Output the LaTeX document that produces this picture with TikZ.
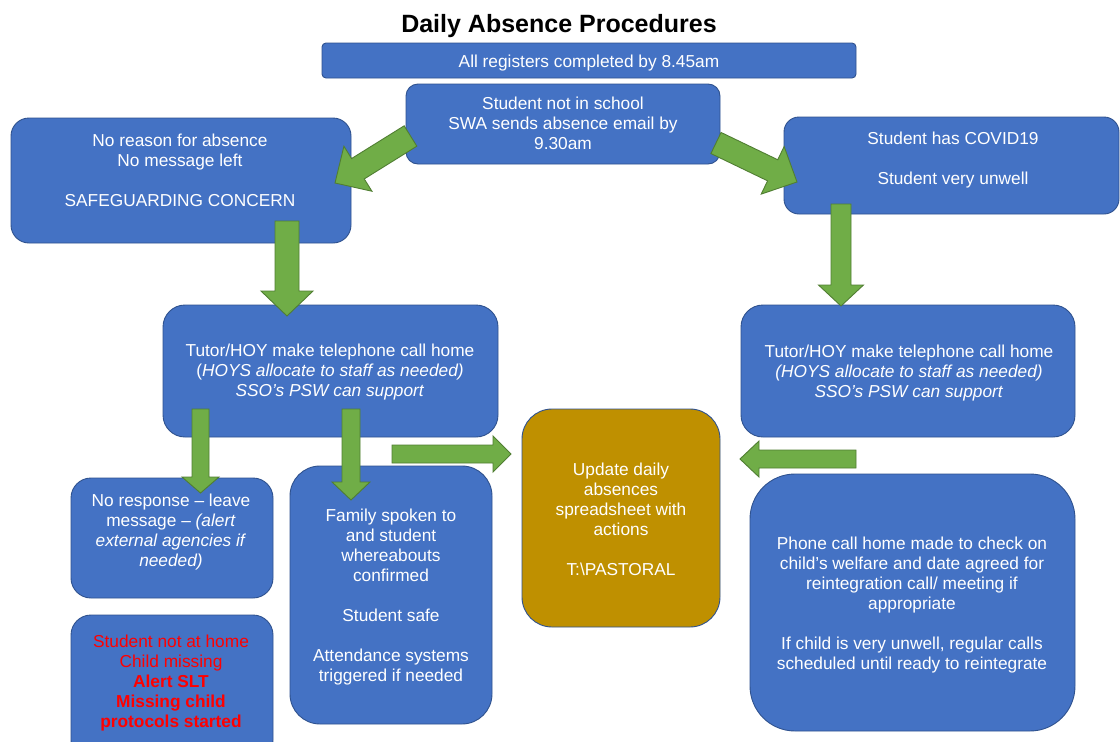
\documentclass[tikz,border=0pt]{standalone}
\usepackage{fontspec}
\setmainfont{Liberation Sans}
\usetikzlibrary{calc}
\definecolor{boxblue}{HTML}{4472C4}
\definecolor{boxedge}{HTML}{2F528F}
\definecolor{argreen}{HTML}{70AD47}
\definecolor{aredge}{HTML}{507E32}
\definecolor{goldfill}{HTML}{BF9000}
\definecolor{alertred}{HTML}{FF0000}
\tikzset{
  box/.style={draw=boxedge, fill=boxblue, line width=0.9pt, inner sep=0pt},
  goldbox/.style={box, fill=goldfill},
  txt/.style={text=white, align=center, inner sep=0pt, font=\fontsize{17.3}{20}\selectfont},
  barrow/.style={draw=aredge, fill=argreen, line width=0.9pt, line join=miter},
}
% #1 start, #2 tip, #3 half shaft, #4 half head, #5 head length
\newcommand\blockarr[5]{%
  \coordinate (hb) at ($(#2)!#5!(#1)$);
  \draw[barrow] ($(#1)!#3!90:(#2)$) -- ($(hb)!#3!90:(#2)$) -- ($(hb)!#4!90:(#2)$)
    -- (#2) -- ($(hb)!#4!-90:(#2)$) -- ($(hb)!#3!-90:(#2)$) -- ($(#1)!#3!-90:(#2)$) -- cycle;
}
\begin{document}
\begin{tikzpicture}[x=1pt, y=-1pt]
\clip (0,0) rectangle (1120,742);
\fill[white] (0,0) rectangle (1120,742);

% title
\node[font=\bfseries\fontsize{25}{30}\selectfont, anchor=base, inner sep=0pt] (title) at (559,32) {Daily Absence Procedures};

% boxes
\node[box, rounded corners=4pt, minimum width=534pt, minimum height=35pt] (b1) at (589,60.5) {};
\node[box, rounded corners=12pt, minimum width=314pt, minimum height=80pt] (b2) at (563,124) {};
\node[box, rounded corners=18pt, minimum width=340pt, minimum height=125pt] (b3) at (181,180.5) {};
\node[box, rounded corners=15pt, minimum width=335pt, minimum height=97pt] (b4) at (951.5,165.5) {};
\node[box, rounded corners=22pt, minimum width=335pt, minimum height=132pt] (b5) at (330.5,371) {};
\node[box, rounded corners=22pt, minimum width=334pt, minimum height=132pt] (b6) at (908,371) {};
\node[goldbox, rounded corners=30pt, minimum width=198pt, minimum height=218pt] (b7) at (621,518) {};
\node[box, rounded corners=20pt, minimum width=202pt, minimum height=120pt] (b8) at (172,538) {};
\node[box, rounded corners=20pt, minimum width=202pt, minimum height=145pt] (b9) at (172,687.5) {};
\node[box, rounded corners=30pt, minimum width=202pt, minimum height=258pt] (b10) at (391,595) {};
\node[box, rounded corners=45pt, minimum width=325pt, minimum height=257pt] (b11) at (912.5,602.5) {};

% texts
\node[txt] (t1) at (589,63) {All registers completed by 8.45am};
\node[txt] (t2) at (563,123.5) {Student not in school\\SWA sends absence email by\\9.30am};
\node[txt] (t3) at (180,170.5) {No reason for absence\\No message left\\[20pt]SAFEGUARDING CONCERN};
\node[txt] (t4) at (953,160) {Student has COVID19\\[20pt]Student very unwell};
\node[txt] (t5) at (330,372) {Tutor/HOY make telephone call home\\(\textit{HOYS allocate to staff as needed)}\\\textit{SSO’s PSW can support}};
\node[txt] (t6) at (909,373) {Tutor/HOY make telephone call home\\\textit{(HOYS allocate to staff as needed)}\\\textit{SSO’s PSW can support}};
\node[txt] (t7) at (621,519) {Update daily\\absences\\spreadsheet with\\actions\\[20pt]T:\textbackslash PASTORAL};
\node[txt] (t8) at (171,532) {No response – leave\\message – \textit{(alert}\\\textit{external agencies if}\\\textit{needed)}};
\node[txt, text=alertred] (t9) at (171,683) {Student not at home\\Child missing\\\textbf{Alert SLT}\\\textbf{Missing child}\\\textbf{protocols started}};
\node[txt] (t10) at (391,597) {Family spoken to\\and student\\whereabouts\\confirmed\\[20pt]Student safe\\[20pt]Attendance systems\\triggered if needed};
\node[txt] (t11) at (912,605) {Phone call home made to check on\\child’s welfare and date agreed for\\reintegration call/ meeting if\\appropriate\\[20pt]If child is very unwell, regular calls\\scheduled until ready to reintegrate};

% arrow end points
\coordinate (aAs) at (410.5,136); \coordinate (aAe) at (335,183);
\coordinate (aBs) at (716,143);   \coordinate (aBe) at (797,182);
\coordinate (aCs) at (287,221);   \coordinate (aCe) at (287,316);
\coordinate (aDs) at (841,204);   \coordinate (aDe) at (841,306);
\coordinate (aEs) at (392,454);   \coordinate (aEe) at (511,454);
\coordinate (aFs) at (856,459);   \coordinate (aFe) at (740,459);
\coordinate (aGs) at (200.5,409); \coordinate (aGe) at (200.5,493);
\coordinate (aHs) at (351,409);   \coordinate (aHe) at (351,500);

\blockarr{aAs}{aAe}{12pt}{26.5pt}{27pt}
\blockarr{aBs}{aBe}{11.7pt}{26.4pt}{27pt}
\blockarr{aCs}{aCe}{12pt}{26pt}{25pt}
\blockarr{aDs}{aDe}{10pt}{22.5pt}{21pt}
\blockarr{aEs}{aEe}{9pt}{18pt}{18pt}
\blockarr{aFs}{aFe}{9pt}{18pt}{19pt}
\blockarr{aGs}{aGe}{8.5pt}{18.5pt}{16pt}
\blockarr{aHs}{aHe}{9pt}{19pt}{18pt}
\end{tikzpicture}
\end{document}
